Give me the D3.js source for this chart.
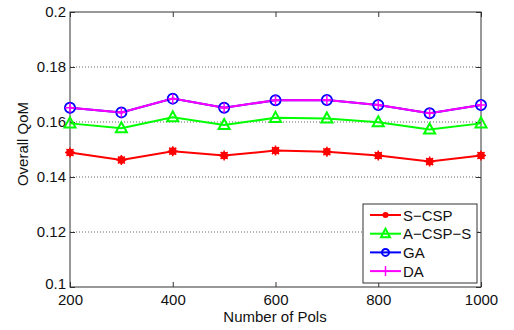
<!DOCTYPE html>
<html>
<head>
<meta charset="utf-8">
<script src="https://cdn.jsdelivr.net/npm/d3@7"></script>
<style>
  body { margin: 0; background: #fff; }
  svg text { font-family: "Liberation Sans", Arial, sans-serif; }
</style>
</head>
<body>
<svg id="root" width="514" height="330"></svg>
<script>
// data
const pois = [200, 300, 400, 500, 600, 700, 800, 900, 1000];
const scsp = [0.1489, 0.1462, 0.1494, 0.1478, 0.1496, 0.1492, 0.1478, 0.1456, 0.1478];
const acsps = [0.1595, 0.1577, 0.1617, 0.1589, 0.1615, 0.1613, 0.1599, 0.1573, 0.1595];
const ga = [0.1652, 0.1635, 0.1685, 0.1652, 0.1679, 0.1680, 0.1662, 0.1632, 0.1662];
const da = [0.1652, 0.1635, 0.1685, 0.1652, 0.1679, 0.1680, 0.1662, 0.1632, 0.1662];
const seriesNames = ['S-CSP', 'A-CSP-S', 'GA', 'DA'];
const xTicks = [200, 400, 600, 800, 1000];
const yTicks = [0.1, 0.12, 0.14, 0.16, 0.18, 0.2];

const series = [
  { name: seriesNames[0], values: scsp, color: '#ff0000', marker: 'star' },
  { name: seriesNames[1], values: acsps, color: '#00ff00', marker: 'triangle' },
  { name: seriesNames[2], values: ga, color: '#0000ff', marker: 'circle' },
  { name: seriesNames[3], values: da, color: '#ff00ff', marker: 'plus' }
];

const margin = { top: 12, right: 33, bottom: 43, left: 70 };
const width = 514 - margin.left - margin.right;
const height = 330 - margin.top - margin.bottom;
const fontSize = '15px';

const x = d3.scaleLinear().domain([200, 1000]).range([0, width]);
const y = d3.scaleLinear().domain([0.1, 0.2]).range([height, 0]);

const svg = d3.select('#root');
const g = svg.append('g').attr('transform', `translate(${margin.left},${margin.top})`);

// dotted grid, only horizontal
g.append('g')
  .selectAll('line')
  .data(yTicks.filter(d => d > 0.1 && d < 0.2))
  .join('line')
  .attr('x1', 0).attr('x2', width)
  .attr('y1', d => y(d)).attr('y2', d => y(d))
  .attr('stroke', '#666')
  .attr('stroke-width', 1)
  .attr('stroke-dasharray', '1,2');

// axes (matlab style: inward ticks, box)
const fmtY = d => String(+d.toFixed(2));
const axisStyle = sel => {
  sel.select('.domain').remove();
  sel.selectAll('line').attr('stroke', '#333');
  sel.selectAll('text').attr('fill', '#111').style('font-size', fontSize);
};

g.append('g')
  .attr('transform', `translate(0,${height})`)
  .call(d3.axisBottom(x).tickValues(xTicks).tickSizeInner(-5).tickSizeOuter(0).tickPadding(7).tickFormat(d => String(d)))
  .call(axisStyle);
g.append('g')
  .call(d3.axisTop(x).tickValues(xTicks).tickSizeInner(-5).tickSizeOuter(0).tickFormat(''))
  .call(axisStyle);
g.append('g')
  .call(d3.axisLeft(y).tickValues(yTicks).tickSizeInner(-5).tickSizeOuter(0).tickPadding(4).tickFormat(fmtY))
  .call(axisStyle)
  .call(ax => ax.selectAll('.tick text').filter(d => d === 0.1).attr('y', -3));
g.append('g')
  .attr('transform', `translate(${width},0)`)
  .call(d3.axisRight(y).tickValues(yTicks).tickSizeInner(-5).tickSizeOuter(0).tickFormat(''))
  .call(axisStyle);

g.append('rect')
  .attr('width', width).attr('height', height)
  .attr('fill', 'none').attr('stroke', '#333').attr('stroke-width', 1);

// marker drawing
function drawMarker(sel, type, color) {
  if (type === 'star') {
    sel.append('circle').attr('r', 3.5).attr('fill', color).attr('stroke', color).attr('stroke-width', 1);
    sel.append('path').attr('d', 'M-5,0H5M0,-5V5M-3.5,-3.5L3.5,3.5M-3.5,3.5L3.5,-3.5')
      .attr('stroke', color).attr('stroke-width', 1.5);
  } else if (type === 'triangle') {
    sel.append('path').attr('d', 'M0,-6L5.5,4L-5.5,4Z')
      .attr('fill', 'none').attr('stroke', color).attr('stroke-width', 2);
  } else if (type === 'circle') {
    sel.append('circle').attr('r', 5).attr('fill', 'none').attr('stroke', color).attr('stroke-width', 2);
  } else if (type === 'plus') {
    sel.append('path').attr('d', 'M-5,0H5M0,-5V5').attr('stroke', color).attr('stroke-width', 1.5);
  }
}

const line = d3.line().x((d, i) => x(pois[i])).y(d => y(d));

series.forEach(s => {
  g.append('path')
    .datum(s.values)
    .attr('d', line)
    .attr('fill', 'none')
    .attr('stroke', s.color)
    .attr('stroke-width', 2);
});
series.forEach(s => {
  g.append('g')
    .selectAll('g')
    .data(s.values)
    .join('g')
    .attr('transform', (d, i) => `translate(${x(pois[i])},${y(d)})`)
    .each(function () { drawMarker(d3.select(this), s.marker, s.color); });
});

// axis labels
svg.append('text')
  .attr('x', 275)
  .attr('y', 322)
  .attr('text-anchor', 'middle')
  .style('font-size', fontSize)
  .attr('fill', '#111')
  .text('Number of Pols');
svg.append('text')
  .attr('transform', 'translate(28,144) rotate(-90)')
  .attr('text-anchor', 'middle')
  .style('font-size', fontSize)
  .attr('fill', '#111')
  .text('Overall QoM');

// legend
const lg = svg.append('g').attr('transform', 'translate(363,204)');
lg.append('rect').attr('width', 114).attr('height', 79)
  .attr('fill', '#fff').attr('stroke', '#333').attr('stroke-width', 1);
series.forEach((s, i) => {
  const row = lg.append('g').attr('transform', `translate(0,${11 + i * 18.7})`);
  row.append('line').attr('x1', 7).attr('x2', 38).attr('stroke', s.color).attr('stroke-width', 2);
  const m = row.append('g').attr('transform', 'translate(22.5,0)');
  if (s.marker === 'star') {
    m.append('circle').attr('r', 3).attr('fill', s.color);
  } else if (s.marker === 'triangle') {
    m.append('path').attr('d', 'M0,-5L4.5,3.5L-4.5,3.5Z').attr('fill', 'none').attr('stroke', s.color).attr('stroke-width', 2);
  } else if (s.marker === 'circle') {
    m.append('circle').attr('r', 3.5).attr('fill', 'none').attr('stroke', s.color).attr('stroke-width', 2);
  } else {
    m.append('path').attr('d', 'M0,-5V5').attr('stroke', s.color).attr('stroke-width', 1.5);
  }
  row.append('text').attr('x', 40).attr('y', 5.5)
    .style('font-size', fontSize).attr('fill', '#111')
    .text(s.name.replace(/-/g, '\u2212'));
});
</script>
</body>
</html>
